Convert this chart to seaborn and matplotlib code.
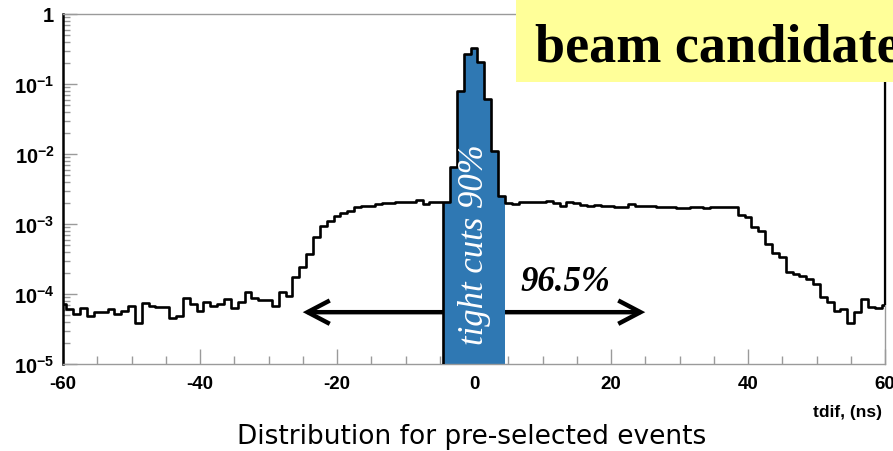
import numpy as np
import pandas as pd
import matplotlib
matplotlib.use("Agg")
import matplotlib.pyplot as plt
import seaborn as sns
from matplotlib.patches import FancyArrowPatch, Rectangle

# ---------------- data ----------------
tdif_ns = list(range(-60, 61))          # bin centres (ns), 1 ns bins
fraction = [
    7.2e-5, 6.1e-5, 5.2e-5, 6.3e-5, 4.9e-5, 5.6e-5, 5.6e-5, 6.1e-5, 5.2e-5, 5.8e-5,   # -60..-51
    6.8e-5, 3.9e-5, 7.4e-5, 6.7e-5, 6.5e-5, 6.5e-5, 4.5e-5, 4.8e-5, 8.7e-5, 7.2e-5,   # -50..-41
    5.8e-5, 7.8e-5, 6.8e-5, 7.2e-5, 8.5e-5, 6.25e-5, 7.8e-5, 1.06e-4, 8.7e-5, 8.3e-5, # -40..-31
    8.3e-5, 6.7e-5, 1.06e-4, 9.3e-5, 1.73e-4, 2.4e-4, 3.7e-4, 6.45e-4, 9.5e-4, 1.11e-3,  # -30..-21
    1.31e-3, 1.44e-3, 1.55e-3, 1.73e-3, 1.82e-3, 1.79e-3, 1.93e-3, 2.0e-3, 2.0e-3, 2.04e-3,  # -20..-11
    2.06e-3, 2.08e-3, 2.22e-3, 1.93e-3, 2.04e-3, 2.04e-3, 2.06e-3, 6.5e-3, 0.079, 0.268,   # -10..-1
    0.327, 0.205, 0.061, 0.011, 2.5e-3, 2.0e-3, 1.93e-3, 2.04e-3, 2.04e-3, 2.08e-3,       # 0..9
    2.08e-3, 2.15e-3, 2.0e-3, 1.82e-3, 2.04e-3, 2.0e-3, 1.87e-3, 1.82e-3, 1.87e-3, 1.79e-3,  # 10..19
    1.79e-3, 1.73e-3, 1.73e-3, 1.93e-3, 1.82e-3, 1.79e-3, 1.79e-3, 1.73e-3, 1.73e-3, 1.73e-3,  # 20..29
    1.68e-3, 1.68e-3, 1.73e-3, 1.73e-3, 1.68e-3, 1.73e-3, 1.73e-3, 1.73e-3, 1.77e-3, 1.36e-3,  # 30..39
    1.27e-3, 8.97e-4, 8.0e-4, 5.2e-4, 3.8e-4, 3.4e-4, 2.04e-4, 1.93e-4, 1.83e-4, 1.64e-4,    # 40..49
    1.39e-4, 9.0e-5, 7.6e-5, 5.8e-5, 6.1e-5, 3.9e-5, 5.5e-5, 8.5e-5, 6.6e-5, 6.3e-5,        # 50..59
    7.0e-5,                                                                                  # 60
]
tight_window = (-4.5, 4.5)       # "tight cuts" region
loose_window = (-25, 25)         # 96.5 % arrow span
arrow_level = 5.5e-5
x_limits = (-60, 60)
y_limits = (1e-5, 1)
x_ticks = [-60, -40, -20, 0, 20, 40, 60]
y_ticks = [1e-5, 1e-4, 1e-3, 1e-2, 1e-1, 1]
y_ticklabels = [r"$\mathbf{10^{-5}}$", r"$\mathbf{10^{-4}}$", r"$\mathbf{10^{-3}}$",
                r"$\mathbf{10^{-2}}$", r"$\mathbf{10^{-1}}$", r"$\mathbf{1}$"]

# ---------------- style ----------------
sns.set_theme(style="white")
plt.rcParams["font.family"] = ["Liberation Sans", "DejaVu Sans"]
plt.rcParams["text.color"] = "black"
plt.rcParams["mathtext.fontset"] = "custom"
plt.rcParams["mathtext.rm"] = "Liberation Sans"
plt.rcParams["mathtext.bf"] = "Liberation Sans:bold"

BLUE = "#2f78b3"
GREY = "#9a9a9a"

df = pd.DataFrame({"tdif": tdif_ns, "frac": fraction})
centers = np.array(tdif_ns, dtype=float)
edges = np.append(centers - 0.5, centers[-1] + 0.5)
in_tight = (df["tdif"] > tight_window[0]) & (df["tdif"] < tight_window[1])
tight_edges = edges[(edges >= tight_window[0]) & (edges <= tight_window[1])]
df_tight = df[in_tight].reset_index(drop=True)

fig = plt.figure(figsize=(8.93, 4.52), dpi=100)
ax = fig.add_axes([63 / 893, 1 - 365 / 452, (885 - 63) / 893, (365 - 15) / 452])

# arrow (drawn behind the blue region)
arr = FancyArrowPatch((loose_window[0], arrow_level), (loose_window[1], arrow_level),
                      arrowstyle="<->,head_length=0.8,head_width=0.42",
                      mutation_scale=20, lw=3.2, color="black", zorder=1,
                      shrinkA=0, shrinkB=0, capstyle="butt", joinstyle="miter")
ax.add_patch(arr)

# blue "tight cuts" fill
sns.histplot(data=df_tight, x="tdif", weights="frac", bins=[float(e) for e in tight_edges],
             element="step", fill=True, color=BLUE, alpha=1.0, linewidth=0,
             ax=ax, zorder=2)
# full distribution outline
sns.histplot(data=df, x="tdif", weights="frac", bins=[float(e) for e in edges],
             element="step", fill=False, color="black", linewidth=1.9,
             ax=ax, zorder=3)

ax.set_yscale("log")
ax.set_xlim(*x_limits)
ax.set_ylim(*y_limits)

# left edge of tight region and right-hand closing edge
left_val = df_tight["frac"].iloc[0]
ax.vlines(tight_window[0], y_limits[0], left_val, color="black", lw=1.9, zorder=3)
ax.vlines(x_limits[1], fraction[-1], y_limits[1], color="black", lw=1.6, zorder=3,
          clip_on=False)

ax.set_xlabel("")
ax.set_ylabel("")
ax.set_xticks(x_ticks)
ax.set_xticklabels([f"{t:d}" for t in x_ticks], fontweight="bold", fontsize=13.5)
ax.xaxis.set_minor_locator(matplotlib.ticker.MultipleLocator(5))
ax.set_yticks(y_ticks)
ax.set_yticklabels(y_ticklabels, fontsize=14.5)
ax.yaxis.set_minor_locator(matplotlib.ticker.LogLocator(base=10, subs=np.arange(2, 10), numticks=20))
ax.yaxis.set_minor_formatter(matplotlib.ticker.NullFormatter())

ax.tick_params(axis="y", which="major", direction="in", length=10, width=1, color=GREY,
               labelcolor="black", pad=6, left=True)
ax.tick_params(axis="y", which="minor", direction="in", length=5, width=1, color=GREY, left=True)
ax.tick_params(axis="x", which="major", direction="in", length=11, width=1, color=GREY,
               labelcolor="black", pad=8, bottom=True)
ax.tick_params(axis="x", which="minor", direction="in", length=6, width=1, color=GREY, bottom=True)

for side in ["top", "right", "bottom"]:
    ax.spines[side].set_color(GREY)
    ax.spines[side].set_linewidth(1.0)
ax.spines["left"].set_color("black")
ax.spines["left"].set_linewidth(1.8)

# annotations
ax.text(0.1, 5.2e-4, "tight cuts 90%", rotation=90, ha="center", va="center",
        color="white", fontsize=25, fontstyle="italic", family="Liberation Serif", zorder=4)
ax.text(13.3, 1.5e-4, "96.5%", ha="center", va="center", color="black",
        fontsize=25, fontstyle="italic", fontweight="bold", family="Liberation Serif", zorder=4)

fig.text(882 / 893, 1 - 413 / 452, "tdif, (ns)", ha="right", va="center",
         fontsize=12.5, fontweight="bold", color="black")
fig.text(472 / 893, 1 - 437 / 452, "Distribution for pre-selected events",
         ha="center", va="center", fontsize=19, color="black", family="DejaVu Sans")

fig.patches.append(Rectangle((516 / 893, 1 - 83 / 452), 0.6, 0.4, transform=fig.transFigure,
                             facecolor="#ffff99", edgecolor="none", zorder=5))
fig.text(535 / 893, 1 - 62 / 452, "beam candidate", ha="left", va="baseline",
         fontsize=39, fontweight="bold", family="Liberation Serif", color="black", zorder=6)

fig.savefig("out.png", dpi=100)
